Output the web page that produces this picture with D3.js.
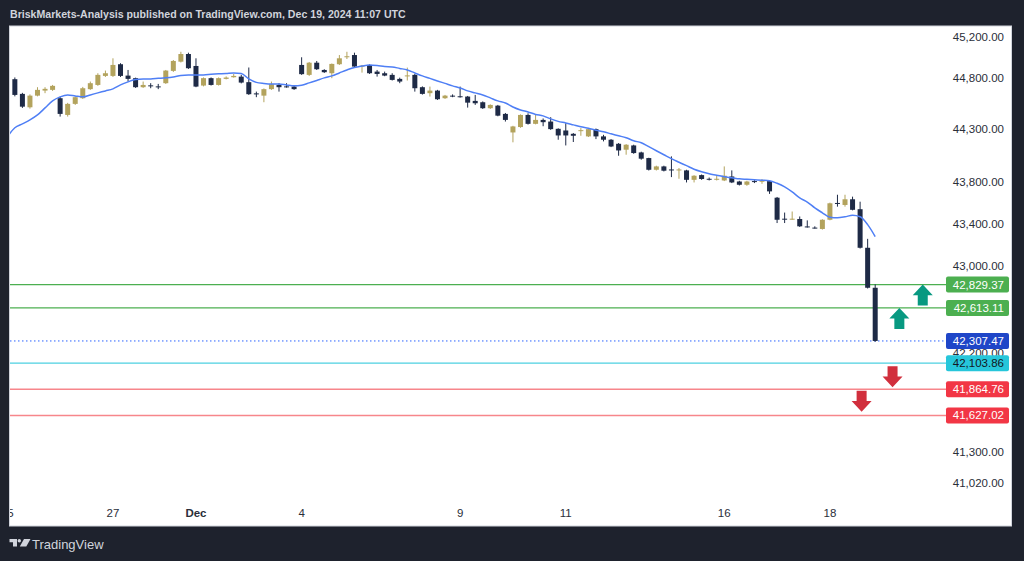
<!DOCTYPE html>
<html>
<head>
<meta charset="utf-8">
<script src="https://cdn.jsdelivr.net/npm/d3@7"></script>
<style>
  html, body { margin: 0; padding: 0; background: #1e222d; }
  svg { display: block; }
  text { font-family: "Liberation Sans", Arial, sans-serif; }
</style>
</head>
<body>
<svg id="chart" width="1024" height="561"></svg>
<script>
// hourly bars, Nov 25 (2nd hour) .. Dec 18 close
const firstBar = 1;
const opens = [
  44787, 44644, 44514, 44627, 44676, 44683, 44602, 44440, 44547, 44602,
  44690, 44731, 44819, 44819, 44933, 44822, 44797, 44709, 44727, 44717,
  44748, 44868, 44958, 45033, 44916, 44725, 44797, 44731, 44790, 44806,
  44812, 44758, 44649, 44627, 44690, 44731, 44717, 44715, 44926, 44829,
  44948, 44877, 44845, 44933, 45004, 45023, 44913, 44926, 44861, 44845,
  44829, 44790, 44819, 44829, 44709, 44651, 44676, 44602, 44627, 44621,
  44618, 44576, 44563, 44505, 44530, 44450, 44271, 44323, 44440, 44354,
  44392, 44376, 44306, 44290, 44258, 44287, 44233, 44303, 44233, 44201,
  44162, 44105, 44146, 44079, 44025, 43913, 43945, 43916, 43910, 43907,
  43817, 43862, 43827, 43823, 43811, 43849, 43801, 43770, 43805, 43803,
  43805, 43647, 43448, 43443, 43445, 43375, 43364, 43351, 43438, 43597,
  43578, 43632, 43538, 43174, 42800
];
const highs = [
  44804, 44654, 44639, 44709, 44709, 44731, 44615, 44557, 44620, 44712,
  44764, 44845, 44871, 44991, 44943, 44877, 44802, 44764, 44748, 44741,
  44877, 44974, 45055, 45046, 44991, 44804, 44804, 44804, 44814, 44838,
  44829, 44901, 44666, 44697, 44764, 44748, 44748, 44722, 45001, 44955,
  44965, 44884, 44940, 45023, 45055, 45046, 44926, 44931, 44877, 44861,
  44845, 44802, 44900, 44838, 44717, 44715, 44683, 44634, 44639, 44715,
  44624, 44634, 44571, 44542, 44537, 44459, 44335, 44445, 44456, 44440,
  44406, 44418, 44311, 44360, 44265, 44313, 44309, 44309, 44248, 44207,
  44169, 44159, 44153, 44086, 44028, 43952, 43952, 44041, 43930, 43913,
  43861, 43868, 43839, 43856, 43945, 43907, 43808, 43808, 43814, 43824,
  43814, 43654, 43506, 43516, 43469, 43432, 43376, 43443, 43600, 43675,
  43675, 43657, 43609, 43258, 42832
];
const lows = [
  44620, 44508, 44501, 44620, 44651, 44673, 44424, 44424, 44537, 44595,
  44683, 44722, 44809, 44809, 44809, 44764, 44702, 44702, 44699, 44690,
  44741, 44858, 44950, 44887, 44709, 44717, 44725, 44725, 44785, 44802,
  44746, 44634, 44612, 44563, 44683, 44666, 44705, 44683, 44829, 44819,
  44877, 44848, 44797, 44926, 44984, 44904, 44851, 44838, 44812, 44816,
  44774, 44748, 44774, 44666, 44637, 44618, 44585, 44595, 44612, 44608,
  44511, 44537, 44498, 44498, 44427, 44376, 44176, 44316, 44347, 44349,
  44331, 44296, 44201, 44146, 44179, 44239, 44227, 44207, 44185, 44130,
  44047, 44057, 44066, 44009, 43906, 43906, 43897, 43843, 43827, 43792,
  43792, 43817, 43811, 43811, 43805, 43786, 43763, 43760, 43786, 43779,
  43683, 43407, 43407, 43438, 43370, 43364, 43355, 43345, 43433, 43562,
  43562, 43527, 43167, 42793, 42300
];
const closes = [
  44634, 44520, 44627, 44683, 44693, 44722, 44450, 44547, 44612, 44699,
  44748, 44829, 44845, 44926, 44819, 44790, 44709, 44731, 44722, 44712,
  44871, 44965, 45033, 44894, 44715, 44797, 44731, 44797, 44803, 44819,
  44754, 44641, 44639, 44690, 44738, 44709, 44712, 44690, 44836, 44948,
  44884, 44855, 44936, 44991, 45011, 44910, 44919, 44845, 44838, 44822,
  44780, 44764, 44824, 44699, 44644, 44676, 44592, 44627, 44621, 44615,
  44559, 44553, 44505, 44537, 44433, 44392, 44329, 44440, 44354, 44392,
  44370, 44303, 44242, 44242, 44239, 44293, 44303, 44233, 44201, 44136,
  44098, 44153, 44073, 44019, 43913, 43945, 43904, 43910, 43916, 43817,
  43856, 43825, 43823, 43827, 43856, 43792, 43770, 43801, 43800, 43808,
  43707, 43438, 43443, 43448, 43376, 43370, 43360, 43438, 43594, 43591,
  43632, 43532, 43174, 42800, 42307.47
];
// moving average, from bar 0
const maValues = [
  44229, 44316, 44354, 44392, 44440, 44508, 44576, 44615, 44634, 44624,
  44615, 44634, 44654, 44673, 44693, 44731, 44761, 44785, 44790, 44790,
  44795, 44800, 44809, 44824, 44829, 44829, 44829, 44834, 44839, 44843,
  44848, 44843, 44790, 44756, 44746, 44741, 44741, 44731, 44722, 44727,
  44751, 44775, 44800, 44819, 44848, 44877, 44902, 44916, 44926, 44921,
  44911, 44907, 44892, 44877, 44848, 44819, 44795, 44770, 44746, 44722,
  44702, 44673, 44654, 44634, 44605, 44576, 44556, 44517, 44488, 44469,
  44445, 44431, 44402, 44378, 44363, 44344, 44325, 44311, 44292, 44277,
  44258, 44239, 44220, 44191, 44172, 44134, 44095, 44057, 44019, 43985,
  43952, 43918, 43894, 43875, 43861, 43846, 43837, 43827, 43822, 43817,
  43813, 43808, 43784, 43750, 43702, 43645, 43606, 43550, 43504, 43462,
  43457, 43466, 43480, 43466, 43392, 43279
];

const dateTicks = [0, 14, 25, 39, 60, 74, 95, 109];
const dateLabels = ["25", "27", "Dec", "4", "9", "11", "16", "18"];
const priceTicks = [45200, 44800, 44300, 43800, 43400, 43000, 42200, 41300, 41020];

const levelPrices = [42829.37, 42613.11, 42307.47, 42103.86, 41864.76, 41627.02];
const levelKinds = ["green", "green", "last", "cyan", "red", "red"];

const arrowBars = [118.2, 121.3, 117.3, 113.2];
const arrowPrices = [42613.11, 42829.37, 41883, 41661];
const arrowDirs = ["up", "up", "down", "down"];

const W = 1024, H = 561;
const plotLeft = 10, plotRight = 946, plotTop = 26, plotBottom = 526;
const upColor = '#b3a35d', downColor = '#1e2a46';

const levelStyle = {
  green: { line: '#4caf50', box: '#4caf50', text: '#ffffff', dash: null, width: 1.2 },
  last:  { line: '#2962ff', box: '#1f46c8', text: '#ffffff', dash: '1.5,2.5', width: 1 },
  cyan:  { line: '#4dd0e1', box: '#26c6da', text: '#131722', dash: null, width: 1.3 },
  red:   { line: '#f7868b', box: '#f23645', text: '#ffffff', dash: null, width: 1.5 }
};

const svg = d3.select('#chart');

svg.append('rect').attr('width', W).attr('height', H).attr('fill', '#1e222d');
svg.append('rect')
  .attr('x', 9.5).attr('y', plotTop).attr('width', 1002).attr('height', plotBottom - plotTop)
  .attr('fill', '#ffffff').attr('stroke', '#d1d4dc');

const defs = svg.append('defs');
defs.append('clipPath').attr('id', 'plotClip')
  .append('rect').attr('x', plotLeft).attr('y', plotTop + 0.5)
  .attr('width', plotRight - plotLeft).attr('height', plotBottom - plotTop - 1);
defs.append('clipPath').attr('id', 'panelClip')
  .append('rect').attr('x', plotLeft).attr('y', plotTop).attr('width', 1001).attr('height', plotBottom - plotTop);

const x = d3.scaleLinear().domain([0, 115]).range([7.3, 875.2]);
const y = d3.scaleLog().domain([41020, 45200]).range([483, 37]);
const fmt = d3.format(',.2f');

// header
svg.append('text')
  .attr('x', 10).attr('y', 18)
  .attr('fill', '#d1d4dc').attr('font-size', 10.6).attr('font-weight', 'bold')
  .text('BriskMarkets-Analysis published on TradingView.com, Dec 19, 2024 11:07 UTC');

// price axis ticks
svg.append('g').selectAll('text')
  .data(priceTicks).enter().append('text')
  .attr('x', 1004).attr('y', d => y(d) + 4)
  .attr('text-anchor', 'end').attr('font-size', 11.5).attr('fill', '#2a2e39')
  .text(d => fmt(d));

// time axis
svg.append('g').attr('clip-path', 'url(#panelClip)')
  .selectAll('text').data(dateTicks).enter().append('text')
  .attr('x', d => x(d)).attr('y', 517)
  .attr('text-anchor', 'middle').attr('font-size', 11.5).attr('fill', '#2a2e39')
  .attr('font-weight', (d, i) => dateLabels[i] === 'Dec' ? 'bold' : 'normal')
  .text((d, i) => dateLabels[i]);

const plot = svg.append('g').attr('clip-path', 'url(#plotClip)');

// horizontal levels
plot.selectAll('line.level')
  .data(levelPrices).enter().append('line')
  .attr('class', 'level')
  .attr('x1', plotLeft).attr('x2', plotRight)
  .attr('y1', d => y(d)).attr('y2', d => y(d))
  .attr('stroke', (d, i) => levelStyle[levelKinds[i]].line)
  .attr('stroke-width', (d, i) => levelStyle[levelKinds[i]].width)
  .attr('stroke-dasharray', (d, i) => levelStyle[levelKinds[i]].dash);

// candles
const bars = d3.range(opens.length);
const candle = plot.selectAll('g.candle')
  .data(bars).enter().append('g').attr('class', 'candle');

candle.append('line')
  .attr('x1', i => x(i + firstBar)).attr('x2', i => x(i + firstBar))
  .attr('y1', i => y(highs[i])).attr('y2', i => y(lows[i]))
  .attr('stroke', i => closes[i] >= opens[i] ? upColor : downColor)
  .attr('stroke-width', 1);

candle.append('rect')
  .attr('x', i => x(i + firstBar) - 2.5)
  .attr('width', 5)
  .attr('y', i => y(Math.max(opens[i], closes[i])))
  .attr('height', i => Math.max(1, Math.abs(y(opens[i]) - y(closes[i]))))
  .attr('fill', i => closes[i] >= opens[i] ? upColor : downColor);

// moving average
const maLine = d3.line()
  .x((d, i) => x(i))
  .y(d => y(d))
  .curve(d3.curveMonotoneX);

plot.append('path')
  .datum(maValues)
  .attr('d', maLine)
  .attr('fill', 'none')
  .attr('stroke', '#4f7ff5')
  .attr('stroke-width', 1.5);

// arrows
const upPath = 'M0,0 L10,10.7 L5,10.7 L5,21 L-5,21 L-5,10.7 L-10,10.7 Z';
const downPath = 'M0,0 L10,-10.7 L5,-10.7 L5,-21 L-5,-21 L-5,-10.7 L-10,-10.7 Z';
plot.selectAll('path.arrow')
  .data(arrowBars).enter().append('path')
  .attr('class', 'arrow')
  .attr('transform', (d, i) => 'translate(' + x(d) + ',' + y(arrowPrices[i]) + ')')
  .attr('d', (d, i) => arrowDirs[i] === 'up' ? upPath : downPath)
  .attr('fill', (d, i) => arrowDirs[i] === 'up' ? '#089981' : '#d12f3d');

// level labels on the price axis
const lbl = svg.append('g').selectAll('g')
  .data(levelPrices).enter().append('g');

lbl.append('rect')
  .attr('x', plotRight).attr('width', 63)
  .attr('y', d => y(d) - 8).attr('height', 16)
  .attr('rx', 2)
  .attr('fill', (d, i) => levelStyle[levelKinds[i]].box);

lbl.append('text')
  .attr('x', 1004).attr('y', d => y(d) + 4)
  .attr('text-anchor', 'end').attr('font-size', 11.5)
  .attr('fill', (d, i) => levelStyle[levelKinds[i]].text)
  .text(d => fmt(d));

// footer logo
const logo = svg.append('g').attr('fill', '#d1d4dc');
logo.append('path').attr('d', 'M9.5,539 H17 V546.5 H13 V542.3 H9.5 Z');
logo.append('circle').attr('cx', 19.3).attr('cy', 540.8).attr('r', 1.7);
logo.append('path').attr('d', 'M24,539 H30.5 L26.3,546.5 H19.8 Z');
svg.append('text')
  .attr('x', 32).attr('y', 549)
  .attr('fill', '#d1d4dc').attr('font-size', 13)
  .text('TradingView');
</script>
</body>
</html>
